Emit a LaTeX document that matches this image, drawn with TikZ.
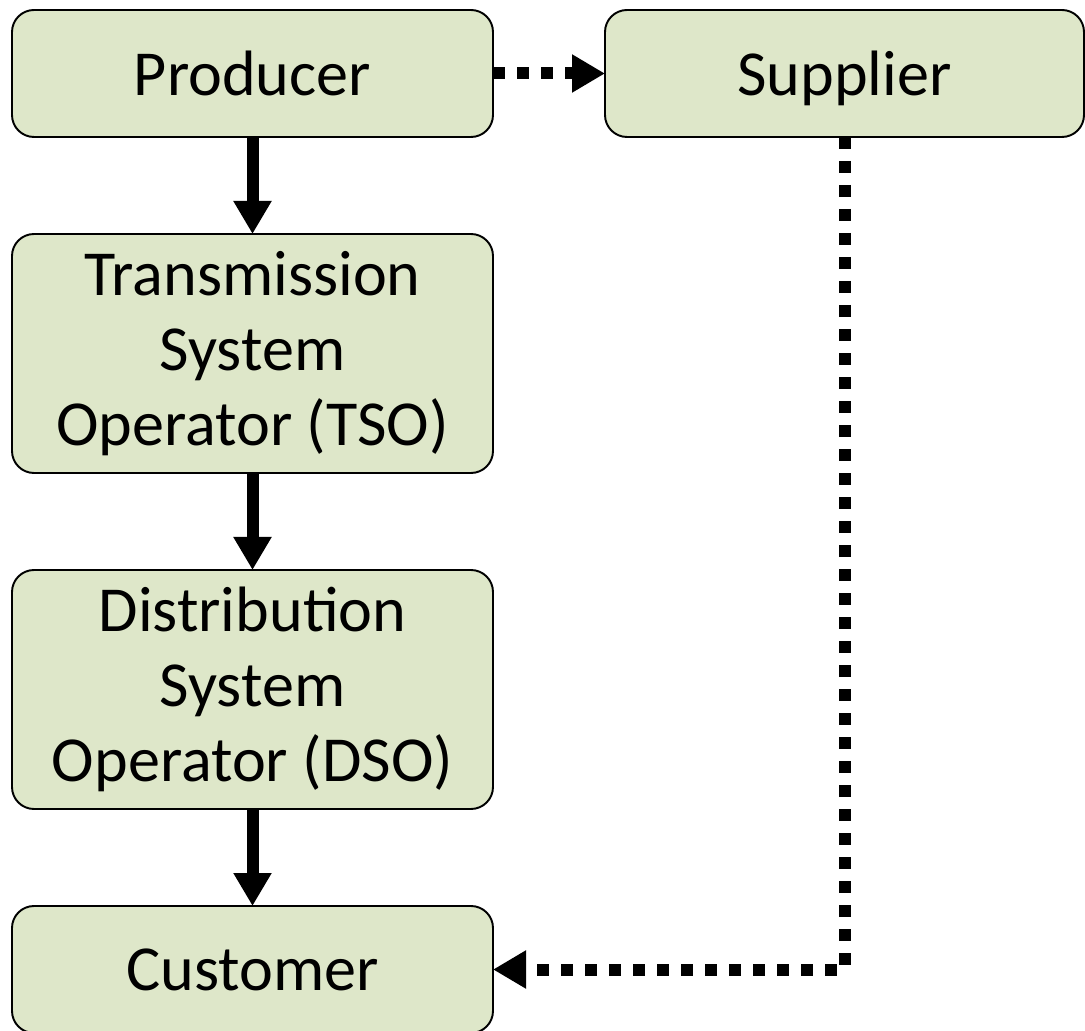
\documentclass[tikz,border=0pt]{standalone}
\usepackage{fontspec}
\setmainfont{Carlito}
\usetikzlibrary{arrows.meta}
\definecolor{boxgreen}{RGB}{222,231,201}
\begin{document}
\begin{tikzpicture}[outer sep=0pt, inner sep=0pt,
    box/.style={draw, line width=1.1pt, fill=boxgreen, rounded corners=0.44cm, minimum width=9.62cm, align=center, font=\fontsize{36.5}{42.5}\selectfont},
    flow/.style={line width=0.24cm, -{Triangle[width=0.72cm,length=0.66cm]}},
    trade/.style={flow, dash pattern=on 0.24cm off 0.24cm}]
    \useasboundingbox (0,0) rectangle (21.7,-20.62);

    \node[box, minimum height=2.54cm] (prod) at (5.05,-1.47) {Producer};
    \node[box, minimum height=2.54cm, minimum width=9.58cm, text depth=0pt] (supp) at (16.89,-1.47) {Supplier};
    \node[box, minimum height=4.78cm] (tso) at (5.05,-7.07) {Transmission\\System\\Operator (TSO)};
    \node[box, minimum height=4.78cm] (dso) at (5.05,-13.79) {Distribution\\System\\Operator (DSO)};
    \node[box, minimum height=2.54cm] (cust) at (5.05,-19.39) {Customer};

    \foreach \a/\b in {prod/tso, tso/dso, dso/cust}
        \draw[flow] (\a) -- (\b);
    \draw[trade] (prod) -- (supp);
    \draw[trade] (supp.south) |- (cust.east);
\end{tikzpicture}
\end{document}
